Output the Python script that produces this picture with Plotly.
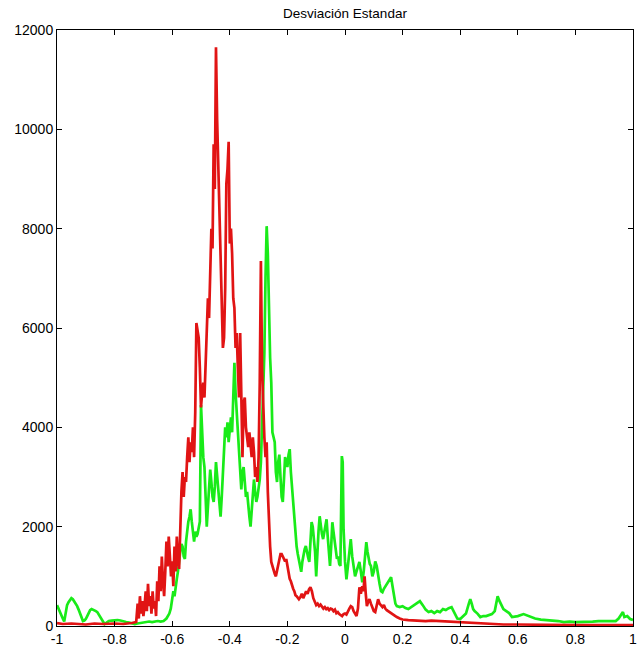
import plotly.graph_objects as go

# ---- data ----
red_x = [-1.0, -0.98, -0.95, -0.92, -0.9, -0.87, -0.84, -0.8, -0.77, -0.74, -0.725,
         -0.72, -0.716, -0.712, -0.708, -0.704, -0.70, -0.696, -0.692, -0.688, -0.684, -0.68, -0.676,
         -0.672, -0.668, -0.664, -0.66, -0.656, -0.652, -0.648, -0.644, -0.64, -0.636, -0.632, -0.628,
         -0.624, -0.62, -0.616, -0.612, -0.608, -0.604, -0.60, -0.596, -0.592, -0.588, -0.584, -0.58,
         -0.576, -0.572, -0.568, -0.564, -0.56, -0.556, -0.552, -0.548, -0.544, -0.54, -0.536, -0.532,
         -0.528, -0.524, -0.52, -0.516, -0.512, -0.508, -0.504, -0.50, -0.496, -0.492, -0.488, -0.484,
         -0.48, -0.476, -0.472, -0.468, -0.464, -0.46, -0.456, -0.452, -0.448, -0.444, -0.44, -0.436,
         -0.432, -0.428, -0.424, -0.42, -0.416, -0.412, -0.408, -0.404, -0.40, -0.396, -0.392, -0.388,
         -0.384, -0.38, -0.376, -0.372, -0.368, -0.364, -0.36, -0.356, -0.352, -0.348, -0.344, -0.34,
         -0.336, -0.332, -0.328, -0.324, -0.32, -0.316, -0.312, -0.308, -0.304, -0.30, -0.296, -0.292,
         -0.288, -0.284, -0.28, -0.276, -0.272, -0.268, -0.264, -0.26, -0.256, -0.252, -0.248, -0.244,
         -0.24, -0.236, -0.232, -0.228, -0.224, -0.22, -0.216, -0.212, -0.208, -0.204, -0.20, -0.196,
         -0.192, -0.188, -0.184, -0.18, -0.176, -0.172, -0.168, -0.164, -0.16, -0.155, -0.15, -0.145,
         -0.14, -0.135, -0.13, -0.125, -0.12, -0.115, -0.11, -0.105, -0.10, -0.095, -0.09, -0.085,
         -0.08, -0.075, -0.07, -0.065, -0.06, -0.055, -0.05, -0.045, -0.04, -0.035, -0.03, -0.025,
         -0.02, -0.015, -0.01, -0.005, 0.0, 0.005, 0.01, 0.015, 0.02, 0.025, 0.03, 0.035, 0.04, 0.045,
         0.05, 0.055, 0.06, 0.064, 0.068, 0.072, 0.076, 0.08, 0.085, 0.09, 0.095, 0.10, 0.105, 0.11,
         0.115, 0.12, 0.125, 0.13, 0.135, 0.14, 0.145, 0.15, 0.155, 0.16, 0.17, 0.18, 0.19, 0.20, 0.22,
         0.25, 0.28, 0.3, 0.33, 0.36, 0.4, 0.45, 0.5, 0.55, 0.6, 0.7, 0.8, 0.9, 1.0]
red_y = [60, 40, 50, 40, 30, 50, 40, 50, 40, 60, 80,
         450, 150, 600, 250, 500, 200, 400, 700, 300, 850, 400, 600,
         250, 700, 350, 500, 200, 900, 500, 1200, 700, 1400, 900, 600,
         1100, 1700, 1200, 1800, 1400, 1000, 1300, 800, 1600, 1100, 1800, 1300,
         1150, 2000, 2700, 3100, 2600, 3000, 2900, 3400, 3800, 3300, 3700, 3500,
         4000, 3400, 4300, 6100, 5900, 5800, 5200, 4400, 4700, 4900, 4600, 5200,
         6000, 6600, 6200, 7000, 8000, 7600, 9700, 8800, 11650, 10200, 9200, 8700,
         7400, 6700, 5600, 5800, 6800, 8900, 9200, 9750, 7700, 8000, 7500, 6600,
         6400, 5600, 5900, 5200, 4600, 5900, 4700, 3400, 4500, 4600, 4000, 3800,
         3600, 3900, 3700, 3400, 3800, 3500, 3000, 3200, 2900, 3400, 4900, 7350,
         5200, 4200, 3800, 3400, 3700, 2700, 1950, 1600, 1290, 1200, 1100, 1050,
         1000, 1100, 1200, 1350, 1450, 1450, 1400, 1380, 1300, 1350, 1200, 1050,
         950, 900, 800, 750, 700, 620, 600, 560, 540, 580, 650, 560,
         620, 700, 650, 740, 780, 700, 560, 480, 420, 450, 400, 430,
         380, 350, 380, 340, 360, 320, 350, 340, 300, 330, 260, 280,
         240, 220, 200, 240, 250, 230, 300, 350, 400, 380, 300, 250, 200, 350,
         780, 650, 800, 700, 1000, 650, 400, 480, 540, 450, 380, 300, 280, 450,
         540, 450, 420, 380, 420, 350, 320, 300, 280, 250, 220, 180, 150, 130, 120,
         110, 100, 110, 100, 90, 80, 60, 40, 30, 30, 20, 20, 20, 20]

green_x = [-1.0, -0.995, -0.99, -0.985, -0.98, -0.975, -0.97, -0.965, -0.96, -0.955, -0.95, -0.945,
           -0.94, -0.935, -0.93, -0.925, -0.92, -0.915, -0.91, -0.905, -0.90, -0.895, -0.89, -0.885,
           -0.88, -0.875, -0.87, -0.865, -0.86, -0.855, -0.85, -0.845, -0.84, -0.835, -0.83, -0.825,
           -0.82, -0.81, -0.80, -0.79, -0.78, -0.77, -0.76, -0.75, -0.74, -0.73, -0.72, -0.71, -0.70,
           -0.69, -0.68, -0.67, -0.66, -0.65, -0.64, -0.63, -0.62, -0.615, -0.61, -0.605, -0.60, -0.596,
           -0.592, -0.588, -0.584, -0.58, -0.576, -0.572, -0.568, -0.564, -0.56, -0.556, -0.552, -0.548,
           -0.544, -0.54, -0.536, -0.532, -0.528, -0.524, -0.52, -0.516, -0.512, -0.508, -0.504, -0.50,
           -0.496, -0.492, -0.488, -0.484, -0.48, -0.476, -0.472, -0.468, -0.464, -0.46, -0.456, -0.452,
           -0.448, -0.444, -0.44, -0.436, -0.432, -0.428, -0.424, -0.42, -0.416, -0.412, -0.408, -0.404,
           -0.40, -0.396, -0.392, -0.388, -0.384, -0.38, -0.376, -0.372, -0.368, -0.364, -0.36, -0.356,
           -0.352, -0.348, -0.344, -0.34, -0.336, -0.332, -0.328, -0.324, -0.32, -0.316, -0.312, -0.308,
           -0.304, -0.30, -0.296, -0.292, -0.288, -0.284, -0.28, -0.276, -0.272, -0.268, -0.264, -0.26,
           -0.256, -0.252, -0.248, -0.244, -0.24, -0.236, -0.232, -0.228, -0.224, -0.22, -0.216, -0.212,
           -0.208, -0.204, -0.20, -0.196, -0.192, -0.188, -0.184, -0.18, -0.176, -0.172, -0.168, -0.164,
           -0.16, -0.156, -0.152, -0.148, -0.144, -0.14, -0.136, -0.132, -0.128, -0.124, -0.12, -0.116,
           -0.112, -0.108, -0.104, -0.10, -0.096, -0.092, -0.088, -0.084, -0.08, -0.076, -0.072, -0.068,
           -0.064, -0.06, -0.056, -0.052, -0.048, -0.044, -0.04, -0.036, -0.032, -0.028, -0.024, -0.02,
           -0.016, -0.013, -0.011, -0.008, -0.005, 0.0, 0.005, 0.01, 0.015, 0.02, 0.025, 0.03, 0.035,
           0.04, 0.045, 0.05, 0.055, 0.06, 0.065, 0.07, 0.074, 0.078, 0.082, 0.086, 0.09, 0.095, 0.10,
           0.105, 0.11, 0.115, 0.12, 0.125, 0.13, 0.135, 0.14, 0.145, 0.15, 0.155, 0.16, 0.165, 0.17,
           0.175, 0.18, 0.19, 0.20, 0.21, 0.22, 0.23, 0.24, 0.25, 0.26, 0.27, 0.28, 0.29, 0.30, 0.31,
           0.32, 0.33, 0.34, 0.35, 0.36, 0.37, 0.38, 0.39, 0.40, 0.41, 0.42, 0.43, 0.435, 0.44, 0.445,
           0.45, 0.46, 0.47, 0.48, 0.49, 0.50, 0.51, 0.52, 0.525, 0.53, 0.535, 0.54, 0.545, 0.55, 0.56,
           0.57, 0.58, 0.60, 0.62, 0.64, 0.66, 0.68, 0.70, 0.72, 0.74, 0.76, 0.78, 0.80, 0.82, 0.84,
           0.86, 0.88, 0.90, 0.92, 0.94, 0.95, 0.96, 0.965, 0.97, 0.98, 0.99, 1.0]
green_y = [420, 350, 260, 200, 150, 90, 250, 420, 480, 530, 560, 540,
           500, 450, 400, 330, 250, 150, 100, 110, 140, 200, 260, 320,
           340, 330, 310, 300, 280, 230, 180, 140, 90, 40, 60, 80,
           100, 110, 120, 120, 110, 90, 80, 70, 50, 40, 50, 60, 70,
           80, 90, 80, 90, 100, 90, 100, 150, 200, 250, 350, 540, 700,
           600, 850, 950, 1100, 1350, 1500, 1650, 1600, 1400, 1350, 1700, 1950,
           2100, 2200, 2350, 2100, 1900, 1700, 1900, 1800, 1850, 2000, 2100, 4450,
           3800, 3400, 3200, 2500, 2000, 2400, 2800, 3150, 2900, 2600, 2500, 2800,
           3300, 3000, 2700, 2400, 2200, 2600, 3100, 3500, 4000, 3800, 4100, 3700,
           3900, 4200, 3900, 4600, 5300, 4700, 4300, 3800, 3400, 3000, 2750, 3100,
           3200, 2900, 2600, 2700, 2400, 2200, 2000, 2300, 2600, 2950, 2700, 2500,
           2600, 2800, 2950, 3300, 4000, 4400, 5500, 7000, 8050, 7500, 6200, 5400,
           4900, 3900, 3800, 3700, 3100, 2900, 3300, 3450, 3000, 2600, 2500, 3000,
           3400, 3300, 3200, 3450, 3560, 3100, 2800, 2350, 2100, 1900, 1600, 1450,
           1350, 1200, 1090, 1300, 1450, 1550, 1610, 1450, 1380, 1290, 1700, 2090,
           2000, 1800, 1500, 1000, 1600, 1900, 2210, 2000, 1850, 1750, 1900, 2050,
           2150, 1800, 1500, 1210, 1600, 2090, 1900, 1700, 1450, 1350, 1400, 1250,
           1210, 2600, 3420, 3300, 1950, 1300, 940, 1200, 1500, 1750, 1400, 1150, 1000,
           1100, 1200, 1290, 1100, 880, 1100, 1400, 1690, 1500, 1350, 1250, 1210, 1000, 1100,
           1300, 1210, 1000, 850, 700, 680, 750, 800, 850, 900, 950, 980, 800, 600,
           450, 400, 380, 400, 360, 340, 380, 420, 460, 500, 420, 330, 280, 300, 260,
           300, 280, 340, 320, 360, 380, 250, 150, 140, 200, 250, 450, 540, 450, 340,
           300, 250, 180, 200, 200, 220, 240, 300, 500, 600, 520, 450, 380, 340, 300,
           260, 180, 200, 240, 200, 150, 130, 120, 120, 100, 80, 90, 80, 80, 80,
           90, 100, 100, 110, 100, 150, 240, 280, 180, 200, 140, 120]

x_ticks = [-1, -0.8, -0.6, -0.4, -0.2, 0, 0.2, 0.4, 0.6, 0.8, 1]
x_tick_labels = ["-1", "-0.8", "-0.6", "-0.4", "-0.2", "0", "0.2", "0.4", "0.6", "0.8", "1"]
y_ticks = [0, 2000, 4000, 6000, 8000, 10000, 12000]
y_tick_labels = ["0", "2000", "4000", "6000", "8000", "10000", "12000"]

FONT = "Liberation Sans, Arial, sans-serif"

fig = go.Figure()
fig.add_trace(go.Scatter(x=green_x, y=green_y, mode="lines",
                         line=dict(color="rgb(25,235,25)", width=2.7), showlegend=False))
fig.add_trace(go.Scatter(x=red_x, y=red_y, mode="lines",
                         line=dict(color="rgb(225,20,20)", width=2.7), showlegend=False))

axis_common = dict(showline=True, linecolor="black", linewidth=1, mirror="allticks",
                   ticks="inside", ticklen=5, tickcolor="black", showgrid=False, zeroline=False,
                   automargin=False,
                   tickfont=dict(family=FONT, size=14, color="black"))

fig.update_xaxes(range=[-1, 1], tickvals=x_ticks, ticktext=x_tick_labels, **axis_common)
fig.update_yaxes(range=[0, 12000], tickvals=y_ticks, ticktext=y_tick_labels, **axis_common)

fig.update_layout(
    width=643, height=648,
    margin=dict(l=57, r=10, t=30, b=22),
    paper_bgcolor="white", plot_bgcolor="white",
    title=dict(text="Desviación Estandar", x=0.5, xref="paper", xanchor="center",
               y=1 - 13 / 648, yref="container", yanchor="middle",
               font=dict(family=FONT, size=13.5, color="black")),
)

fig.write_html("out.html")
